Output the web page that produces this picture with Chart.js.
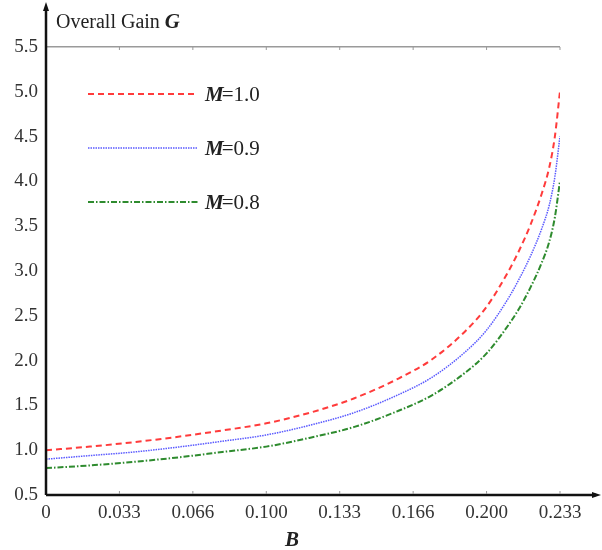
<!DOCTYPE html>
<html lang="en">
<head>
    <meta charset="UTF-8">
    <title>Overall Gain G</title>
    <script src="https://cdn.jsdelivr.net/npm/chart.js"></script>
    <style>
        body { margin: 0; background: #fff; }
        #wrap { width: 602px; height: 550px; }
    </style>
</head>
<body>
<div id="wrap"><canvas id="chart" width="602" height="550"></canvas></div>

<script>
    // data
    const bValues = [0, 0.02, 0.04, 0.06, 0.08, 0.10, 0.12, 0.14, 0.16, 0.175, 0.19, 0.20, 0.21, 0.215, 0.22, 0.225, 0.2285, 0.231, 0.2333];
    const gainM10 = [1.00, 1.04, 1.09, 1.15, 1.22, 1.30, 1.42, 1.58, 1.80, 2.01, 2.32, 2.60, 3.00, 3.24, 3.52, 3.86, 4.16, 4.50, 5.00];
    const gainM09 = [0.90, 0.94, 0.98, 1.035, 1.10, 1.17, 1.28, 1.42, 1.62, 1.81, 2.09, 2.34, 2.70, 2.92, 3.17, 3.47, 3.74, 4.05, 4.50];
    const gainM08 = [0.80, 0.83, 0.87, 0.92, 0.98, 1.04, 1.14, 1.26, 1.44, 1.61, 1.86, 2.08, 2.40, 2.59, 2.82, 3.09, 3.33, 3.60, 4.00];
    const seriesLabels = ['1.0', '0.9', '0.8'];
    const xTickLabels = ['0', '0.033', '0.066', '0.100', '0.133', '0.166', '0.200', '0.233'];

    const serif = '"Liberation Serif", "DejaVu Serif", serif';
    const colors = ['#ff3b3b', '#5a5aff', '#2e8b2e'];
    const dashes = [[6, 4], [1.5, 1], [6, 2, 1.5, 2]];
    const widths = [2, 1.5, 2];

    function toPoints(ys) {
        return bValues.map((b, i) => ({x: b, y: ys[i]}));
    }

    // axes with arrows, custom legend and axis titles
    const decorations = {
        id: 'decorations',
        afterDraw(chart) {
            const ctx = chart.ctx;
            const a = chart.chartArea;
            ctx.save();
            ctx.strokeStyle = '#111';
            ctx.fillStyle = '#111';
            ctx.lineWidth = 2.5;
            ctx.beginPath();
            ctx.moveTo(a.left, a.bottom);
            ctx.lineTo(a.left, 8);
            ctx.moveTo(a.left, a.bottom);
            ctx.lineTo(596, a.bottom);
            ctx.stroke();
            // arrow heads
            ctx.beginPath();
            ctx.moveTo(a.left, 2);
            ctx.lineTo(a.left - 3, 11);
            ctx.lineTo(a.left + 3, 11);
            ctx.closePath();
            ctx.fill();
            ctx.beginPath();
            ctx.moveTo(601, a.bottom);
            ctx.lineTo(592, a.bottom - 3);
            ctx.lineTo(592, a.bottom + 3);
            ctx.closePath();
            ctx.fill();

            // small tick marks
            ctx.strokeStyle = '#999';
            ctx.lineWidth = 1;
            const xs = chart.scales.x;
            for (let i = 1; i < xTickLabels.length; i++) {
                const px = xs.getPixelForValue(i / 30);
                ctx.beginPath();
                ctx.moveTo(px, a.bottom - 1);
                ctx.lineTo(px, a.bottom - 4);
                ctx.moveTo(px, a.top);
                ctx.lineTo(px, a.top + 3);
                ctx.stroke();
            }

            // title
            ctx.fillStyle = '#222';
            ctx.textBaseline = 'alphabetic';
            ctx.textAlign = 'left';
            ctx.font = '20px ' + serif;
            const t = 'Overall Gain ';
            ctx.fillText(t, 56, 28);
            const tw = ctx.measureText(t).width;
            ctx.font = 'italic bold 21px ' + serif;
            ctx.fillText('G', 56 + tw, 28);

            // x title
            ctx.font = 'italic bold 21px ' + serif;
            ctx.fillText('B', 285, 546);

            // legend
            const legendY = [94, 148, 202];
            for (let i = 0; i < 3; i++) {
                ctx.strokeStyle = colors[i];
                ctx.lineWidth = widths[i];
                ctx.setLineDash(dashes[i]);
                ctx.beginPath();
                ctx.moveTo(88, legendY[i]);
                ctx.lineTo(198, legendY[i]);
                ctx.stroke();
                ctx.setLineDash([]);
                ctx.fillStyle = '#222';
                ctx.font = 'italic bold 21px ' + serif;
                ctx.fillText('M', 205, legendY[i] + 7);
                const mw = ctx.measureText('M').width;
                ctx.font = '21px ' + serif;
                ctx.fillText('=' + seriesLabels[i], 205 + mw - 2, legendY[i] + 7);
            }
            ctx.restore();
        }
    };

    new Chart(document.getElementById('chart').getContext('2d'), {
        type: 'line',
        data: {
            datasets: [gainM10, gainM09, gainM08].map((ys, i) => ({
                label: 'M=' + seriesLabels[i],
                data: toPoints(ys),
                borderColor: colors[i],
                borderWidth: widths[i],
                borderDash: dashes[i],
                pointRadius: 0,
                fill: false,
                cubicInterpolationMode: 'monotone'
            }))
        },
        options: {
            responsive: false,
            animation: false,
            layout: {padding: {top: 47, right: 42, left: 0, bottom: 0}},
            plugins: {legend: {display: false}, tooltip: {enabled: false}},
            scales: {
                x: {
                    type: 'linear',
                    min: 0,
                    max: 7 / 30,
                    afterBuildTicks(scale) {
                        scale.ticks = xTickLabels.map((_, i) => ({value: i / 30}));
                    },
                    afterFit(scale) { scale.height = 55; },
                    border: {display: false},
                    grid: {display: false, drawTicks: false},
                    ticks: {
                        padding: 7,
                        color: '#333',
                        font: {family: serif, size: 19},
                        maxRotation: 0,
                        autoSkip: false,
                        callback: (v, i) => xTickLabels[i]
                    }
                },
                y: {
                    min: 0.5,
                    max: 5.5,
                    afterFit(scale) { scale.width = 46; },
                    border: {display: false},
                    grid: {
                        drawTicks: false,
                        color: c => c.tick.value === 5.5 ? '#9a9a9a' : 'rgba(0,0,0,0)',
                        lineWidth: 1.5
                    },
                    ticks: {
                        stepSize: 0.5,
                        padding: 8,
                        color: '#333',
                        font: {family: serif, size: 19},
                        callback: v => v.toFixed(1)
                    }
                }
            }
        },
        plugins: [decorations]
    });
</script>
</body>
</html>
